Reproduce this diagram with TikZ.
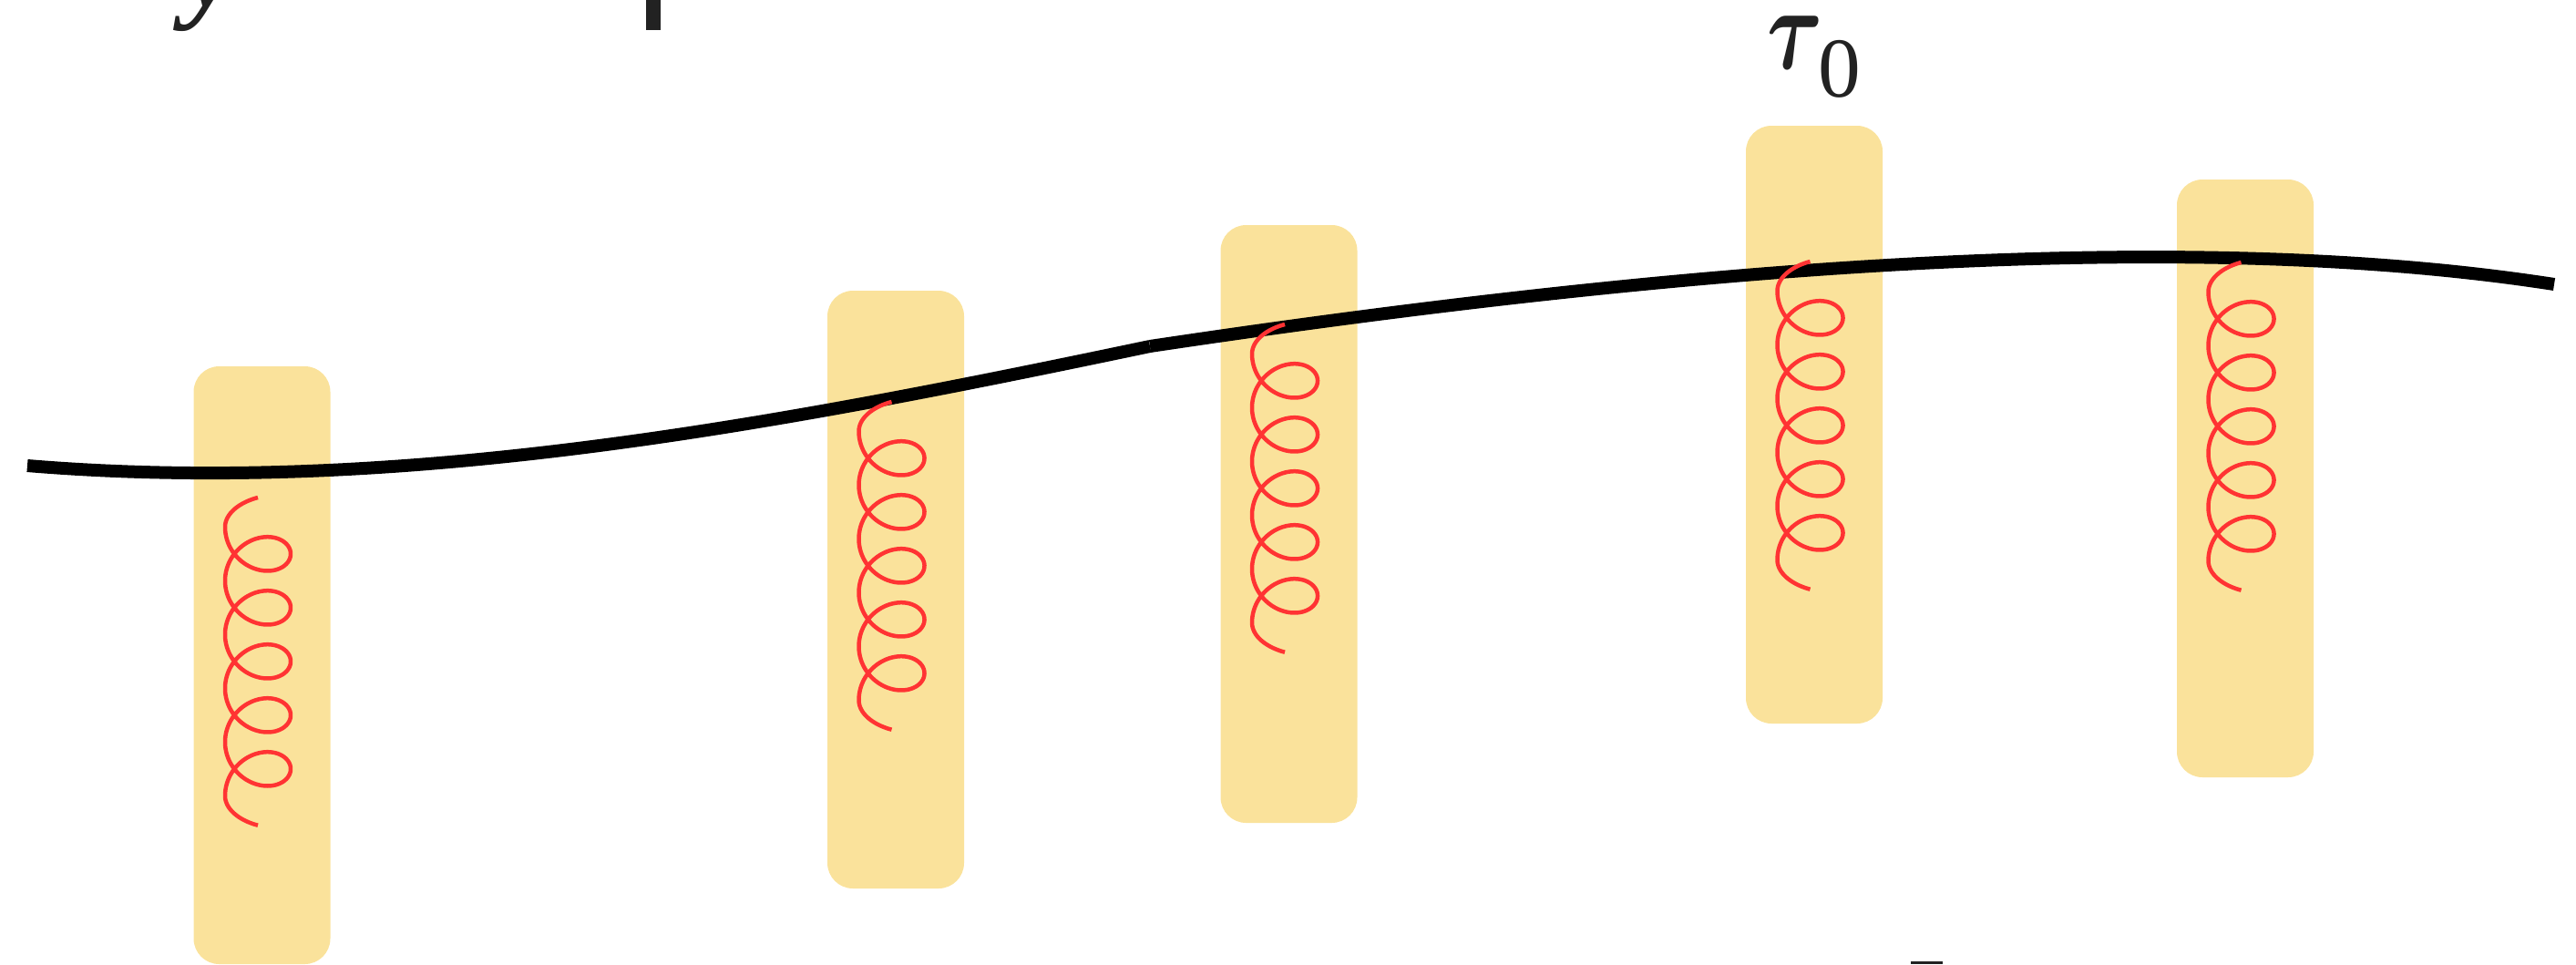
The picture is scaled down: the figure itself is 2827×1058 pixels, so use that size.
\RequirePackage{fix-cm}
\documentclass[tikz,border=0pt]{standalone}
\usepackage{fontspec}
\setmainfont{Liberation Serif}
\usepackage{graphicx}
\usepackage{tikz}
\usetikzlibrary{positioning}
\definecolor{myYellow}{RGB}{250, 226, 155}
\definecolor{myRed}{RGB}{255, 51, 51}
\definecolor{myInk}{RGB}{34, 34, 34}

\begin{document}
\begin{tikzpicture}[
    x=0.1mm, y=-0.1mm,
    % Styles
    block/.style={
        fill=myYellow, rounded corners=2.8mm, minimum width=15mm, minimum height=65.6mm, inner sep=0pt
    },
    chain_line/.style={draw=black, line width=1.4mm},
    coil_line/.style={draw=myRed, line width=0.45mm, line join=round},
    label_text/.style={text=myInk, inner sep=0pt, font=\fontsize{37}{40}\selectfont},
    % one spring, hanging down from its upper end
    spring_coil/.pic={
        \draw[coil_line] plot[domain=-90:1890, samples=600]
            ({-36*cos(\x)}, {\x/360*59 + ((((\x<0)||(\x>1800)) ? 17.6 : 32))*sin(\x) + 32.35});
    }
]
    \useasboundingbox (0,0) rectangle (2827,1058);

    % --- 1. Blocks ---
    \node[block] (b1) at (287.5, 730) {};
    \node[block] (b2) at (983, 647) {};
    \node[block] (b3) at (1414.5, 575) {};
    \node[block] (b4) at (1991, 466) {};
    \node[block] (b5) at (2464, 525) {};

    % --- 2. The chain (two pieces meeting at the bend) ---
    \coordinate (left_end) at (30, 511);
    \coordinate (bend) at (1262, 380);
    \coordinate (right_end) at (2803, 312);
    \draw[chain_line] (left_end) .. controls (440, 545) and (852, 466) .. (bend);
    \draw[chain_line] (bend) .. controls (1862, 290) and (2403, 250) .. (right_end);

    % --- 3. Springs ---
    \pic at (283, 546) {spring_coil};
    \pic at (978.5, 441) {spring_coil};
    \pic at (1410, 356) {spring_coil};
    \pic at (1986.5, 287) {spring_coil};
    \pic at (2459.5, 288) {spring_coil};

    % --- 4. Labels ---
    \node[label_text, above=2.9mm of b4] (tau)
        {\scalebox{0.72}[1]{\boldmath$\tau$}\kern-0.6mm\raisebox{-3.1mm}{\fontsize{26.6}{28}\selectfont 0}};

    % cut-off text along the edges
    \node[label_text, anchor=base west] (ysym) at (203, 6) {\bfseries\itshape y};
    \fill[myInk] (709, 0) rectangle (725, 33);
    \fill[myInk] (2097, 1055) rectangle (2132, 1058);

\end{tikzpicture}
\end{document}
